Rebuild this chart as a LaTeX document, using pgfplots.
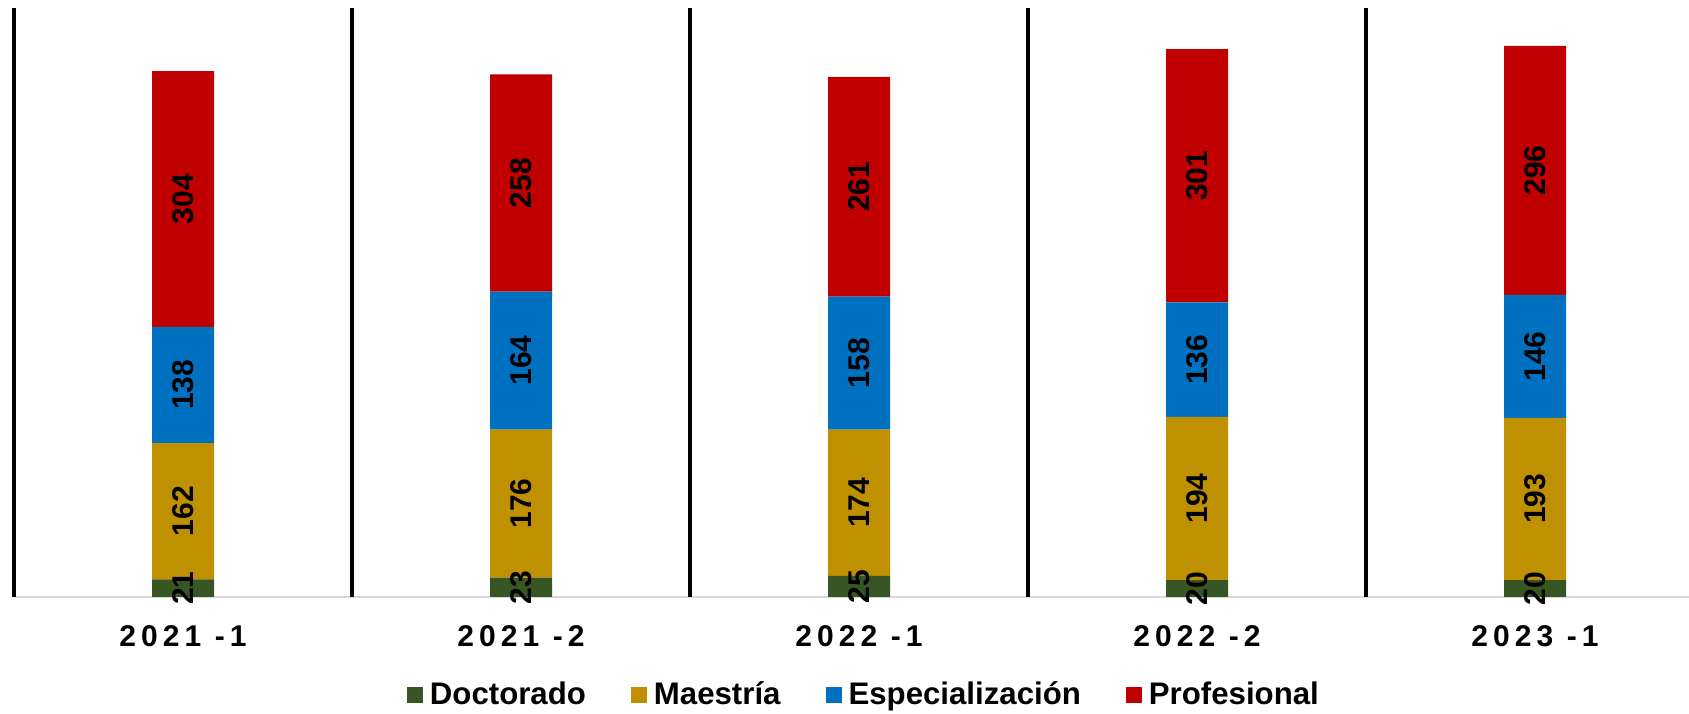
\documentclass[border=0pt]{standalone}
\usepackage{fontspec}
\setmainfont{Liberation Sans}
\usepackage{pgfplots}
\pgfplotsset{compat=1.18}
\usepackage{pgfplotstable}

\definecolor{cDoc}{HTML}{375623}
\definecolor{cMae}{HTML}{BF9000}
\definecolor{cEsp}{HTML}{0070C0}
\definecolor{cPro}{HTML}{C00000}

\pgfplotstableread{
x v
0 21
1 23
2 25
3 20
4 20
}\doc
\pgfplotstableread{
x v
0 162
1 176
2 174
3 194
4 193
}\mae
\pgfplotstableread{
x v
0 138
1 164
2 158
3 136
4 146
}\esp
\pgfplotstableread{
x v
0 304
1 258
2 261
3 301
4 296
}\pro

\begin{document}
\begin{tikzpicture}
\begin{axis}[
  name=ax,
  scale only axis,
  width=837.5pt, height=294.5pt,
  ybar stacked, bar width=31pt,
  xmin=-0.5, xmax=4.4556, ymin=0, ymax=700,
  clip=false,
  axis y line=none,
  axis x line*=bottom,
  x axis line style={draw=black!15, line width=1pt, -},
  ytick=\empty,
  xtick={0,1,2,3,4},
  xticklabels={2021 -1, 2021 -2, 2022 -1, 2022 -2, 2023 -1},
  major tick length=0pt,
  xticklabel style={anchor=base, yshift=-25pt, font=\fontsize{15pt}{18pt}\selectfont\bfseries\addfontfeature{LetterSpace=17}},
  extra x ticks={-0.5,0.5,1.5,2.5,3.5},
  extra x tick labels={},
  extra x tick style={grid=major, major grid style={black, line width=2pt}},
  /pgf/number format/assume math mode=true,
  point meta=explicit,
  nodes near coords,
  every node near coord/.append style={font=\fontsize{15pt}{18pt}\selectfont\bfseries, black, anchor=center, rotate=90},
  legend columns=4,
  legend style={at={(0.508,-0.1664)}, anchor=center, draw=none, font=\fontsize{15.6pt}{18pt}\selectfont\bfseries,
    /tikz/every even column/.append style={column sep=20.5pt},
    /tikz/every odd column/.append style={column sep=1.5pt}},
  legend image code/.code={\fill[#1] (0pt,-4pt) rectangle (8pt,4pt);},
]
\addplot[fill=cDoc, draw=none] table[x=x, y=v, meta=v] {\doc};
\addplot[fill=cMae, draw=none] table[x=x, y=v, meta=v] {\mae};
\addplot[fill=cEsp, draw=none] table[x=x, y=v, meta=v] {\esp};
\addplot[fill=cPro, draw=none] table[x=x, y=v, meta=v] {\pro};
\legend{Doctorado, Maestría, Especialización, Profesional}
\end{axis}
\pgfresetboundingbox
\path ([shift={(-7pt,-58.5pt)}]ax.south west) rectangle ([shift={(0pt,4pt)}]ax.north east);
\end{tikzpicture}
\end{document}
